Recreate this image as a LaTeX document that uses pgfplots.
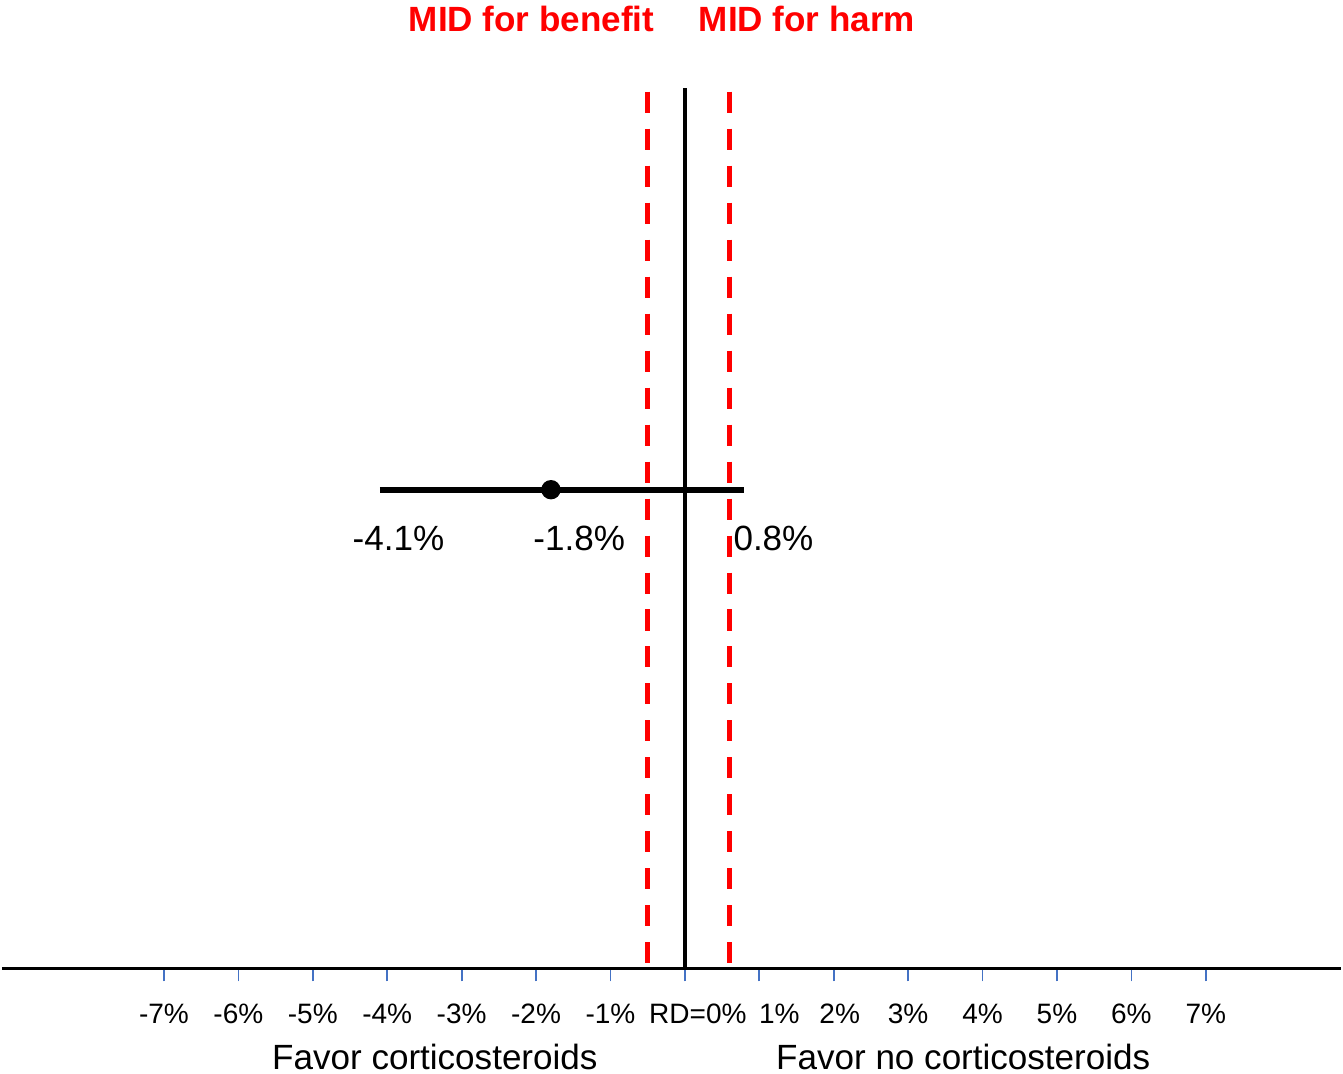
\documentclass[border=0pt]{standalone}
\usepackage{pgfplots}
\pgfplotsset{compat=1.18}
\usepackage{fontspec}
\setmainfont{Liberation Sans}
\definecolor{midred}{RGB}{255,0,0}
\definecolor{tickblue}{RGB}{68,114,196}

\begin{document}
\begin{tikzpicture}
\begin{axis}[
  scale only axis,
  width=134.3mm, height=107.6mm,
  xmin=-9.18, xmax=8.82,
  ymin=-105, ymax=971,
  axis x line=middle, axis y line=none,
  axis line style={line width=1pt, -},
  xtick={-7,-6,-5,-4,-3,-2,-1,0,1,2,3,4,5,6,7},
  xticklabels={-7\%,-6\%,-5\%,-4\%,-3\%,-2\%,-1\%,\hspace*{2.6mm}RD=0\%,\hspace*{4mm}1\%,\hspace*{1.2mm}2\%,3\%,4\%,5\%,6\%,7\%},
  tick align=outside,
  major tick length=1.3mm,
  xtick style={tickblue, line width=0.5pt},
  xticklabel style={font=\fontsize{8}{9}\selectfont, anchor=base, yshift=-4.2mm},
  clip=false,
]
% invisible frame fixing the picture size
\path (rel axis cs:0,0) rectangle (rel axis cs:1,1);

% line of no effect
\addplot[black, line width=1.1pt] coordinates {(0,0) (0,883)};

% minimally important difference thresholds
\addplot[midred, line width=1.5pt, dash pattern=on 6pt off 4.55pt] coordinates {(-0.5,879) (-0.5,0)};
\addplot[midred, line width=1.5pt, dash pattern=on 6pt off 4.55pt] coordinates {(0.6,879) (0.6,0)};

% pooled risk difference with 95% CI
\addplot[black, line width=1.7pt] coordinates {(-4.1,480) (0.8,480)};
\addplot[only marks, mark=*, mark size=2.56pt, black] coordinates {(-1.8,480)};

\node[font=\fontsize{10}{12}\selectfont, inner sep=0pt] at (axis cs:-3.85,431) {-4.1\%};
\node[font=\fontsize{10}{12}\selectfont, inner sep=0pt] at (axis cs:-1.42,431) {-1.8\%};
\node[font=\fontsize{10}{12}\selectfont, inner sep=0pt] at (axis cs:1.19,431) {0.8\%};

\node[font=\fontsize{10}{12}\selectfont\bfseries, text=midred, inner sep=0pt] at (axis cs:-2.06,952) {MID for benefit};
\node[font=\fontsize{10}{12}\selectfont\bfseries, text=midred, inner sep=0pt] at (axis cs:1.64,952) {MID for harm};

\node[font=\fontsize{10}{12}\selectfont, inner sep=0pt] at (axis cs:-3.36,-89) {Favor corticosteroids};
\node[font=\fontsize{10}{12}\selectfont, inner sep=0pt] at (axis cs:3.74,-89) {Favor no corticosteroids};
\end{axis}
\end{tikzpicture}
\end{document}
